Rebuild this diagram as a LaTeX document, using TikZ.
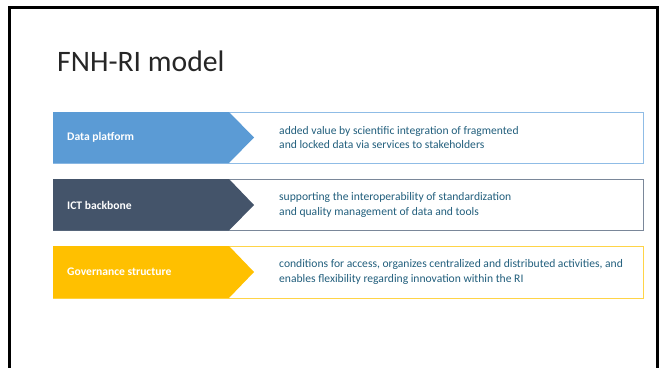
\documentclass[tikz,border=0pt]{standalone}
\usepackage{fontspec}
\setmainfont{Carlito}
\definecolor{dpblue}{HTML}{5B9BD5}
\definecolor{dpline}{HTML}{8FBCE6}
\definecolor{ictdark}{HTML}{44546A}
\definecolor{ictline}{HTML}{7A8799}
\definecolor{govyellow}{HTML}{FFC000}
\definecolor{govline}{HTML}{FFD447}
\definecolor{desccol}{HTML}{215E7C}
\begin{document}
\begin{tikzpicture}[x=1pt, y=-1pt,
    bartext/.style={font=\fontsize{11.6}{13}\selectfont\bfseries, text=white, anchor=west, inner sep=0pt},
    desctext/.style={font=\fontsize{11.6}{14.5}\selectfont, text=desccol, anchor=west, align=left, inner sep=0pt},
    outline/.style={line width=1pt}]
    \useasboundingbox (0,0) rectangle (664,367);

    % slide frame
    \draw[line width=3pt] (9.5,370) -- (9.5,7.5) -- (657,7.5) -- (657,370);

    \node[anchor=base west, inner sep=0pt, font=\fontsize{29.7}{32}\selectfont, text=black!85] (title) at (57,71) {FNH-RI model};

    % Data platform
    \draw[outline, dpline] (53,112) rectangle (643,163);
    \fill[dpblue] (53,112) -- (229,112) -- (254,137.5) -- (229,163) -- (53,163) -- cycle;
    \node[bartext] (dp) at (67,137.5) {Data platform};
    \node[desctext] (dpdesc) at (279,137.5) {added value by scientific integration of fragmented\\and locked data via services to stakeholders};

    % ICT backbone
    \draw[outline, ictline] (53,179) rectangle (643,230.5);
    \fill[ictdark] (53,179) -- (229,179) -- (254,205) -- (229,230.5) -- (53,230.5) -- cycle;
    \node[bartext] (ict) at (67,205) {ICT backbone};
    \node[desctext] (ictdesc) at (279,205) {supporting the interoperability of standardization\\and quality management of data and tools};

    % Governance structure
    \draw[outline, govline] (53,246) rectangle (643,298);
    \fill[govyellow] (53,246) -- (229,246) -- (254,272) -- (229,298) -- (53,298) -- cycle;
    \node[bartext] (gov) at (67,272) {Governance structure};
    \node[desctext] (govdesc) at (279,272) {conditions for access, organizes centralized and distributed activities, and\\enables flexibility regarding innovation within the RI};
\end{tikzpicture}
\end{document}
